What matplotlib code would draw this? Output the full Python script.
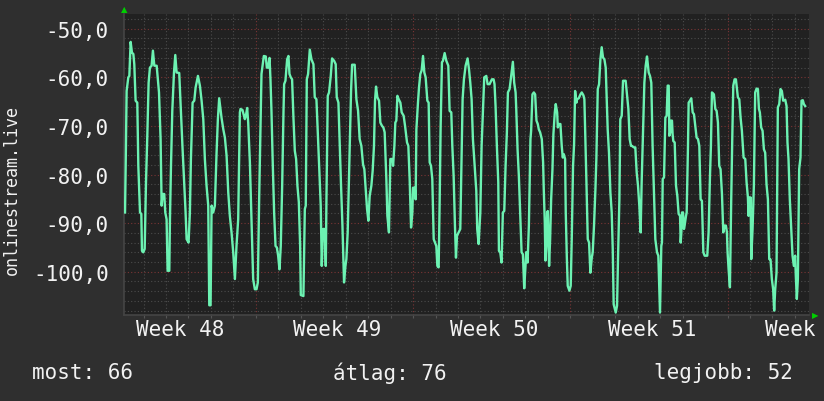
# -*- coding: utf-8 -*-
import numpy as np
import matplotlib
matplotlib.use('Agg')
import matplotlib.pyplot as plt

plt.rcParams['font.family'] = ['DejaVu Sans Mono', 'DejaVu Sans']

# hours since the first day line, value
hours = [
    4.2, 4.9, 5.9, 7.7, 8.8, 10.2, 11.6, 13.1, 14.1, 15.5, 17.3, 18.4, 20.2, 21.6, 22.3, 23.7,
    25.2, 26.6, 28.0, 29.4, 30.8, 32.6, 34.0, 35.5, 38.0, 40.5, 42.2, 43.3, 44.4, 46.1, 47.2,
    48.6, 49.7, 51.5, 52.2, 53.3, 54.7, 56.5, 57.9, 59.3, 62.1, 63.9, 65.7, 67.1, 68.9, 70.0,
    72.1, 73.5, 74.6, 76.4, 78.2, 79.6, 82.1, 84.2, 86.0, 87.8, 89.5, 91.3, 93.1, 94.2, 95.6,
    96.7, 98.4, 100.2, 102.0, 103.4, 104.8, 107.3, 109.2, 110.9, 112.7, 114.5, 116.2, 118.0,
    119.8, 121.6, 123.3, 125.1, 126.9, 127.6, 129.7, 132.2, 133.3, 134.7, 135.8, 137.6, 139.7,
    141.1, 142.9, 144.7, 146.1, 147.5,
    150.0, 152.5, 154.6, 155.7, 157.1, 158.6, 159.6, 160.7, 162.1, 163.5, 165.0, 166.4, 167.8,
    169.2, 170.6, 172.1, 173.5, 174.2, 175.6, 177.4, 178.8, 179.9, 181.3, 182.7, 184.2, 185.6,
    187.0, 188.4, 189.9, 191.3, 192.0, 194.8, 196.3, 197.3, 198.4, 199.8, 201.6, 203.4, 205.5,
    206.9, 208.7, 210.5, 211.9, 213.3, 214.4, 215.8, 217.6, 218.7, 219.4, 220.8, 222.2, 224.0,
    225.4, 227.6, 229.3, 230.4, 232.2, 233.6, 235.0, 236.5, 238.2, 239.7, 240.7, 242.1, 243.9,
    245.7, 246.8, 249.6, 251.4, 253.2, 254.9, 256.7, 258.5, 259.9, 261.3, 262.8, 264.2, 265.6,
    267.4, 268.8, 270.2, 271.3, 272.4, 273.8, 275.6, 277.0, 278.8, 280.2, 281.6, 283.4, 284.5,
    286.2,
    287.7, 289.8, 290.6, 292.0, 293.0, 294.1, 295.2, 296.6, 298.4, 299.8, 301.9, 303.4, 305.5,
    306.9, 308.3, 309.8, 311.2, 311.9, 313.7, 314.7, 315.5, 317.2, 318.3, 319.7, 321.1, 322.6,
    324.0, 325.4, 327.2, 328.6, 329.7, 331.1, 332.5, 334.0, 335.4, 336.8, 337.9, 339.3, 340.4,
    341.4, 342.8, 343.9, 345.7, 347.5, 349.6, 351.0, 352.8, 353.9, 355.3, 356.7, 357.8, 358.9,
    360.6, 362.4, 363.5, 364.9, 366.3, 368.1, 370.2, 371.7, 373.1, 374.5, 375.9, 377.7, 379.5,
    380.5, 382.0, 383.8, 385.2, 388.0, 390.2, 391.6, 393.7, 396.2, 398.0, 399.0, 400.1, 401.5,
    403.0, 403.7, 405.1, 406.5, 407.9, 409.4, 410.8, 412.2, 413.3, 415.1, 417.2, 418.6, 420.0,
    421.5, 422.2, 423.6, 425.0, 426.4, 427.9, 429.3, 430.7, 432.1, 432.8, 434.3, 435.7,
    437.4, 438.1, 439.5, 441.0, 442.4, 443.8, 445.2, 446.3, 447.7, 449.5, 450.9, 451.6, 452.7,
    453.4, 454.5, 455.2, 455.9, 456.6, 457.3, 458.4, 459.5, 460.9, 461.9, 463.4, 464.4, 465.9,
    466.6, 467.6, 469.4, 470.8, 471.9, 473.0, 474.4, 475.1, 476.2, 477.2, 479.0, 480.4, 481.5,
    482.9, 484.0, 485.1, 486.5, 487.2, 489.0, 490.8, 492.2, 494.0, 495.0, 496.1, 497.2, 498.6,
    500.0, 501.4, 502.9, 503.9, 505.3, 506.8, 507.8, 509.3, 510.7, 512.1, 513.5, 514.9, 516.4,
    517.8, 518.9, 519.9, 521.3, 522.8, 524.2, 525.3, 526.3, 528.5, 529.9, 531.0, 532.4, 533.4,
    534.9, 536.3, 539.1, 540.6, 542.0, 543.4, 544.8, 545.9, 547.7, 549.4, 550.9, 552.3, 553.7,
    555.1, 556.2, 557.6, 559.1, 560.5, 561.9, 563.7, 565.1, 566.5, 567.9, 569.4, 570.8, 572.6,
    574.0, 575.8,
    576.2, 577.2, 577.9, 578.7, 580.1, 580.8, 581.5, 582.9, 584.0, 585.1, 585.8, 586.8, 587.5,
    588.6, 589.3, 590.0, 591.5, 592.9, 594.3, 595.7, 597.2, 597.9, 598.6, 599.3, 600.4, 601.4,
    602.1, 603.6, 604.3, 605.7, 606.4, 607.8, 609.2, 610.7, 612.1, 613.5, 614.9, 616.4, 617.8,
    619.2, 620.6, 622.1, 623.5, 626.3, 627.7, 629.2, 630.2, 631.3, 633.4, 634.9, 636.3, 637.7,
    639.1, 640.5, 642.0, 643.4, 644.8, 646.2, 647.3, 648.0, 649.1, 650.5, 651.9, 653.0, 654.1,
    655.5, 656.9, 659.0, 660.5, 661.9, 663.3, 665.1, 666.9, 668.3, 669.7, 670.4, 671.1, 671.9,
    672.6, 673.3, 674.7, 676.1, 677.5, 679.0, 680.4, 681.5, 682.5, 683.9, 685.4, 686.8, 688.2,
    689.6, 691.1, 692.5, 693.9, 695.3, 696.7, 697.8, 698.9, 700.3, 701.7, 703.2, 704.6, 706.0,
    707.4, 709.6, 711.0, 712.0, 713.1, 714.5, 715.9, 717.4, 718.8, 720.2, 720.9, 722.0, 723.1,
    724.5, 725.9, 727.0, 728.4, 729.5, 730.9,
]
values = [
    -87.8, -78.2, -62.8, -60.0, -59.7, -52.7, -54.9, -55.2, -57.3, -64.8, -65.2, -78.2, -87.8, -88.1, -95.7, -96.0,
    -95.3, -81.6, -72.0, -61.1, -58.0, -57.6, -54.5, -57.6, -57.6, -63.1, -72.7, -86.4, -84.0, -84.0, -87.8,
    -89.2, -99.8, -99.8, -89.2, -78.2, -66.9, -59.0, -55.4, -59.0, -59.1, -67.2, -74.8, -80.3, -87.8, -93.3,
    -94.0, -87.8, -76.8, -65.2, -64.8, -62.1, -59.7, -61.7, -64.8, -68.6, -76.8, -82.3, -86.4, -106.9, -106.9,
    -86.4, -87.8, -86.4, -75.5, -68.6, -64.3, -68.3, -70.7, -72.4, -76.1, -83.7, -88.5, -91.9,
    -96.0, -101.5, -94.7, -89.2, -67.2, -66.5, -66.7, -68.6, -67.9, -66.3, -69.3, -77.5, -91.9,
    -101.5, -103.6, -103.6, -102.2, -85.1,
    -59.3, -55.6, -55.7, -58.0, -58.0, -56.0, -60.4, -67.2, -78.2, -87.8, -94.7, -95.0, -96.7,
    -99.5, -94.7, -82.3, -67.2, -61.4, -60.7, -56.3, -55.6, -59.3, -60.0, -60.4, -68.6, -75.1,
    -76.8, -82.3, -85.7, -94.7, -104.8, -105.0, -87.1, -86.4, -60.4, -59.3, -54.3, -56.3, -57.3,
    -64.1, -64.5, -72.7, -79.6, -86.4, -98.8, -91.2, -91.2, -98.8, -85.1, -63.8, -63.1, -59.7,
    -56.1, -56.6, -57.3, -64.1, -65.2, -74.1, -82.3, -90.5, -102.2, -98.8, -97.4, -91.9, -77.5,
    -62.8, -57.4, -57.4, -64.5, -66.9, -72.7, -74.1, -77.9, -78.9, -83.0, -87.1, -89.5, -84.4,
    -82.3, -79.2, -74.1, -64.8, -61.9, -64.1, -64.8, -69.3, -70.0, -70.3, -71.3, -80.9, -88.5,
    -91.9,
    -76.8, -76.8, -78.2, -74.1, -69.3, -68.9, -63.8, -64.5, -65.2, -67.2, -67.9, -70.0, -73.4,
    -74.1, -80.9, -90.9, -87.8, -82.7, -82.7, -85.1, -70.7, -65.2, -62.1, -59.3, -58.6, -55.6,
    -59.0, -60.0, -64.8, -65.2, -77.5, -78.2, -80.9, -93.3, -94.0, -94.7, -98.8, -99.1, -85.1,
    -70.3, -56.9, -56.6, -55.0, -56.6, -57.6, -66.9, -67.2, -74.1, -80.3, -90.5, -97.1, -92.6,
    -91.9, -91.2, -79.6, -64.5, -60.4, -57.6, -56.1, -58.3, -61.1, -64.5, -72.7, -77.9, -83.3,
    -91.2, -94.3, -87.8, -74.1, -60.0, -59.7, -61.4, -61.4, -60.4, -60.4, -61.4, -65.9, -74.1,
    -81.6, -95.7, -96.0, -98.1, -87.8, -87.5, -78.2, -71.3, -63.1, -62.4, -59.0, -56.8, -61.1,
    -63.1, -66.5, -74.8, -80.3, -87.8, -96.0, -96.4, -103.4, -98.8, -96.0, -98.1, -90.5,
    -72.7, -71.0, -63.5, -63.1, -63.5, -68.9, -69.6, -70.7, -71.3, -72.7, -77.5, -83.0, -89.9,
    -97.7, -94.0, -87.8, -87.5, -93.3, -98.8, -93.3, -85.1, -78.9, -71.7, -67.2, -65.5, -67.2,
    -70.3, -69.6, -69.6, -74.1, -76.5, -75.8, -76.8, -87.8, -96.7, -102.9, -103.9, -102.9, -93.3,
    -78.2, -73.7, -62.8, -65.2, -64.5, -64.3, -63.5, -63.1, -63.7, -64.5, -72.7, -81.6, -93.3,
    -94.0, -100.2, -97.1, -96.0, -90.5, -83.0, -76.8, -62.4, -61.4, -56.3, -53.8, -55.9, -56.3,
    -58.0, -64.5, -70.7, -75.5, -83.7, -87.8, -95.3, -106.7, -108.4, -107.0, -96.7, -85.1, -68.6,
    -67.9, -60.7, -60.7, -63.8, -66.5, -72.7, -74.1, -74.1, -74.4, -74.4, -79.6, -82.3, -86.4,
    -91.9, -81.6, -72.0, -61.1, -57.6, -55.7, -59.0, -59.7, -61.1, -74.1, -83.7, -93.3, -96.0,
    -96.7, -108.4,
    -104.3, -94.7, -94.0, -80.9, -80.6, -74.1, -68.3, -67.9, -61.7, -61.7, -72.0, -71.3, -68.9,
    -68.9, -71.7, -73.1, -73.4, -82.3, -84.4, -88.1, -88.5, -94.0, -91.9, -87.8, -87.8, -91.2,
    -90.5, -88.5, -87.8, -74.1, -65.2, -64.8, -64.3, -67.2, -67.6, -70.0, -72.4, -72.7, -74.1,
    -85.1, -85.4, -96.0, -96.7, -96.7, -91.9, -80.3, -74.1, -63.1, -63.5, -66.5, -66.9, -69.3,
    -78.2, -78.9, -84.0, -91.9, -90.5, -90.5, -91.9, -96.0, -99.5, -103.2, -85.1, -72.7, -61.7,
    -60.4, -60.4, -64.1, -64.5, -68.3, -71.0, -76.5, -76.8, -81.6, -84.7, -88.5, -84.7, -87.1,
    -84.7, -97.4, -91.2, -82.3, -63.1, -62.3, -62.4, -66.5, -67.2, -70.3, -71.0, -74.8, -75.5,
    -82.0, -85.1, -97.4, -97.5, -101.5, -103.6, -108.0, -103.6, -100.2, -66.2, -65.5, -62.4, -62.8,
    -64.8, -64.6, -65.9, -73.4, -76.8, -85.1, -90.5, -96.7, -98.8, -96.7, -100.8, -105.6, -101.5,
    -78.9, -76.5, -64.8, -64.7, -65.5, -65.9,
]

week_labels = ['Week 48', 'Week 49', 'Week 50', 'Week 51', 'Week 52']
week_label_hours = [63, 231, 399, 567, 735]
y_ticks = [-100, -90, -80, -70, -60, -50]
legend_texts = ['most: 66', 'átlag: 76', 'legjobb: 52']
axis_title = 'onlinestream.live'

bg = '#2f2f2f'
plot_bg = '#212121'
fg = '#f2f2f2'
line_col = '#6cf2b2'
minor_col = '#4c4c4c'
major_col = '#7a3535'

W, H = 824, 402
fig = plt.figure(figsize=(W / 100, H / 100), dpi=100, facecolor=bg)
ax = fig.add_axes([124 / W, 1 - 316 / H, (809 - 124) / W, (316 - 14.7) / H])
ax.set_facecolor(plot_bg)

xmin, xmax = 3.1, 734.1
ymin, ymax = -108.9, -46.9
ax.set_xlim(xmin, xmax)
ax.set_ylim(ymin, ymax)

# grid: minor every day / 2 units, major every week / 10 units
day_lines = np.arange(24, xmax, 24)
for d in day_lines:
    major = (d % 168) == 144
    ax.axvline(d, color=major_col if major else minor_col, lw=0.8,
               ls=(0, (1, 2)), zorder=1 if major else 0)
for v in np.arange(-108, ymax, 2):
    major = (v % 10) == 0
    ax.axhline(v, color=major_col if major else minor_col, lw=0.8,
               ls=(0, (1, 2)), zorder=1 if major else 0)

ax.plot(hours, values, color=line_col, lw=1.7, zorder=3)

for s in ['top', 'right']:
    ax.spines[s].set_visible(False)
for s in ['left', 'bottom']:
    ax.spines[s].set_color('#454545')
    ax.spines[s].set_linewidth(1.2)

ax.set_yticks(y_ticks)
ax.set_yticklabels([('%.1f' % t).replace('.', ',') for t in y_ticks])
ax.set_xticks(week_label_hours)
ax.set_xticklabels(week_labels)
ax.set_xticks(day_lines, minor=True)
ax.tick_params(axis='y', length=0, pad=11, labelsize=15, labelcolor=fg)
ax.tick_params(axis='x', which='major', length=0, pad=3, labelsize=15, labelcolor=fg)
ax.tick_params(axis='x', which='minor', length=2, width=0.8, color='#555555')

# little green arrows at the axis ends
fig.text(124 / W, 1 - 10 / H, '▲', color='#00d000', fontsize=6, ha='center', va='center',
         family='DejaVu Sans')
fig.text(815 / W, 1 - 316 / H, '▶', color='#00d000', fontsize=6, ha='center', va='center',
         family='DejaVu Sans')

fig.text(12 / W, 1 - 190 / H, axis_title, rotation=90, color=fg, fontsize=12,
         ha='center', va='center')
fig.text(32 / W, 1 - 373 / H, legend_texts[0], color=fg, fontsize=15, ha='left', va='center')
fig.text(390 / W, 1 - 373 / H, legend_texts[1], color=fg, fontsize=15, ha='center', va='center')
fig.text(793 / W, 1 - 373 / H, legend_texts[2], color=fg, fontsize=15, ha='right', va='center')

fig.savefig('out.png', dpi=100, facecolor=bg)
